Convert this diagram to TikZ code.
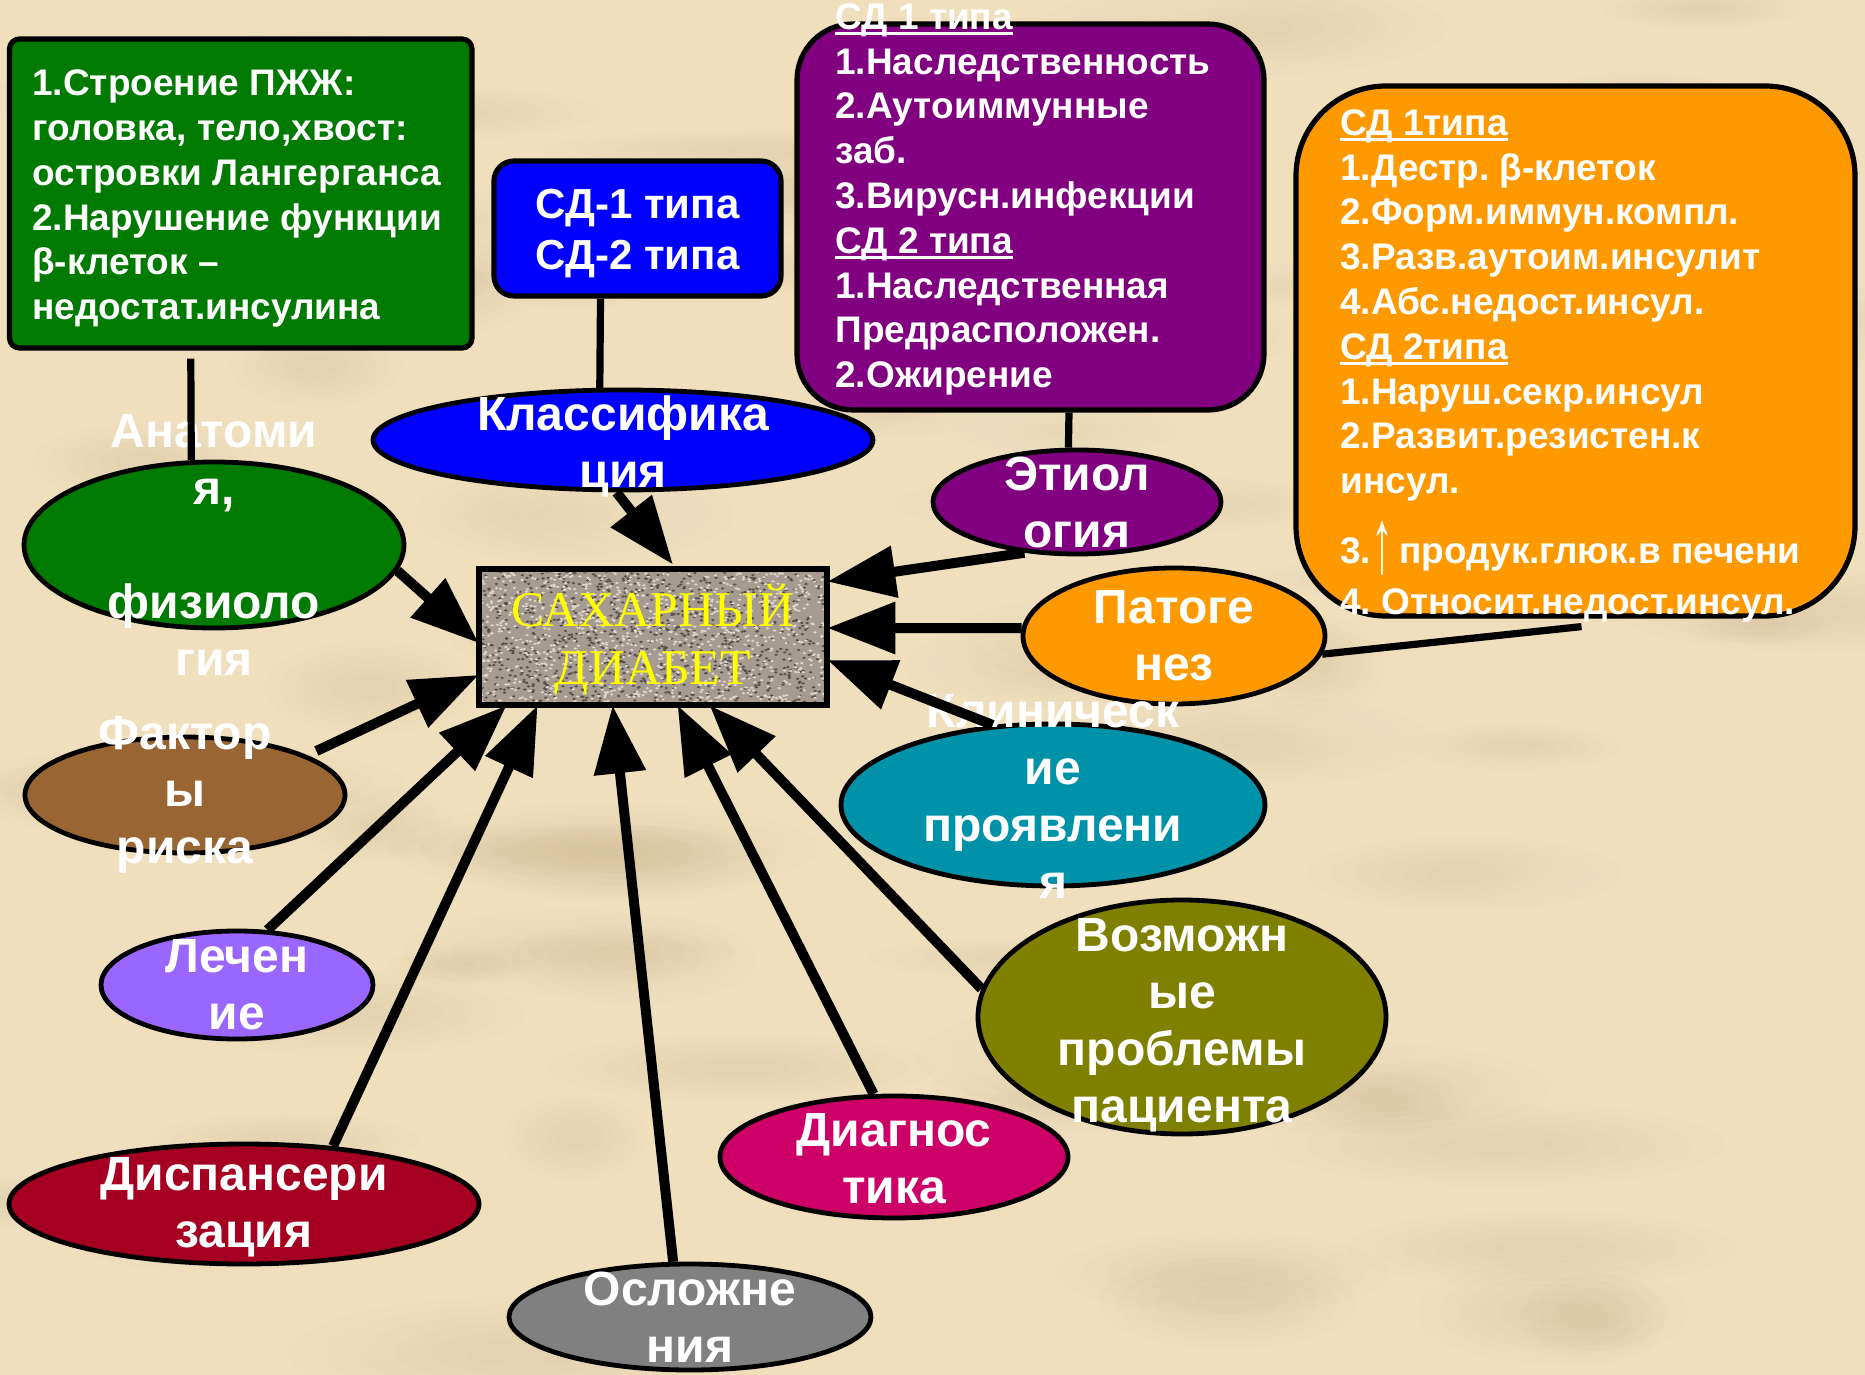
\documentclass[tikz,border=0pt]{standalone}
\usepackage{fontspec}
\usepackage{graphicx}
\setmainfont{Liberation Sans}
\newfontfamily\serifT{Liberation Serif}
\usetikzlibrary{shapes.geometric,arrows.meta,calc}
\frenchspacing

\definecolor{bg}{RGB}{239,223,189}
\definecolor{bgdark}{RGB}{200,175,135}
\definecolor{bglight}{RGB}{250,236,205}
\definecolor{cgreen}{RGB}{0,122,0}
\definecolor{cblue}{RGB}{0,0,255}
\definecolor{cpurple}{RGB}{128,0,128}
\definecolor{corange}{RGB}{255,153,0}
\definecolor{cteal}{RGB}{0,146,168}
\definecolor{cbrown}{RGB}{153,102,51}
\definecolor{clav}{RGB}{153,102,255}
\definecolor{colive}{RGB}{128,128,0}
\definecolor{cmag}{RGB}{204,0,102}
\definecolor{cdred}{RGB}{165,0,33}
\definecolor{cgray}{RGB}{128,128,128}
\definecolor{sdbase}{RGB}{165,155,145}
\definecolor{sddark}{RGB}{90,80,74}
\definecolor{sdlight}{RGB}{222,214,206}
\definecolor{cyel}{RGB}{255,255,0}

\newsavebox\ulbox
\newsavebox\arbox
\newcommand\ulx[1]{\sbox\ulbox{#1}\rlap{\rule[-2.8pt]{\wd\ulbox}{1.2pt}}\usebox\ulbox}
\newcommand\boxfont{\bfseries\fontsize{18.5}{22.4}\selectfont}
\newcommand\ellfont{\bfseries\fontsize{24}{28.5}\selectfont}
\newcommand\blufont{\bfseries\fontsize{21}{25.6}\selectfont}
\newcommand\upar{\sbox\arbox{\resizebox*{11pt}{27pt}{\mdseries ↑}}\raisebox{\dimexpr\dp\arbox-6pt\relax}[0pt][0pt]{\usebox\arbox}}

\tikzset{
  ell/.style={ellipse, draw=black, line width=2.4pt, inner sep=0pt},
  lbl/.style={text=white, font=\ellfont, align=center, inner sep=0pt},
  panel/.style={rectangle, draw=black, line width=2.6pt, inner sep=0pt},
  ptext/.style={text=white, font=\boxfont, align=left, inner sep=0pt, anchor=north west},
  arr/.style={line width=5pt, -{Triangle[length=34pt,width=25pt]}},
  link/.style={line width=3.6pt}
}

\begin{document}
\begin{tikzpicture}[x=0.5pt,y=-0.5pt]
\useasboundingbox (0,0) rectangle (1865,1375);
\fill[bg] (0,0) rectangle (1865,1375);
% parchment mottling
\pgfmathsetseed{11}
\begin{scope}
\clip (0,0) rectangle (1865,1375);
\foreach \i in {1,...,70}{
  \pgfmathsetmacro\bx{1865*rnd}\pgfmathsetmacro\by{1375*rnd}
  \pgfmathsetmacro\bw{70+170*rnd}\pgfmathsetmacro\bh{18+40*rnd}
  \foreach \s in {1,0.85,0.7,0.55,0.4,0.25}{
    \fill[bgdark, opacity=0.035] (\bx,\by) ellipse ({\s*\bw} and {\s*\bh});
  }
}
\foreach \i in {1,...,50}{
  \pgfmathsetmacro\bx{1865*rnd}\pgfmathsetmacro\by{1375*rnd}
  \pgfmathsetmacro\bw{70+170*rnd}\pgfmathsetmacro\bh{18+40*rnd}
  \foreach \s in {1,0.8,0.6,0.4}{
    \fill[bglight, opacity=0.06] (\bx,\by) ellipse ({\s*\bw} and {\s*\bh});
  }
}
\end{scope}

% central box
\node[rectangle, fill=sdbase, minimum width=174pt, minimum height=68pt, inner sep=0pt] (sd) at (653,637) {};
\pgfmathsetseed{7}
\begin{scope}
\clip (sd.south west) rectangle (sd.north east);
\foreach \i in {1,...,1100}{
  \pgfmathsetmacro\px{479+348*rnd}\pgfmathsetmacro\py{569+136*rnd}
  \fill[sddark] (\px,\py) ellipse (1.9 and 1.2);
}
\foreach \i in {1,...,1100}{
  \pgfmathsetmacro\px{479+348*rnd}\pgfmathsetmacro\py{569+136*rnd}
  \fill[sdlight] (\px,\py) ellipse (1.9 and 1.2);
}
\end{scope}
\draw[line width=3pt] (sd.north west) rectangle (sd.south east);
\node[font=\serifT\fontsize{25}{29}\selectfont, text=cyel, align=center, inner sep=0pt] (sdt) at ([yshift=-1.5pt]sd.center) {САХАРНЫЙ\\ДИАБЕТ};

% panels
\node[panel, fill=cgreen, rounded corners=5pt, minimum width=231.25pt, minimum height=154.5pt] (gbox) at (240.75,193.5) {};
\node[ptext] (gtext) at (32,69.5) {1.Строение ПЖЖ:\\головка, тело,хвост:\\островки Лангерганса\\2.Нарушение функции\\β-клеток –\\недостат.инсулина};

\node[panel, fill=cblue, rounded corners=10pt, minimum width=143.5pt, minimum height=67.5pt] (bbox) at (637.5,228.5) {};
\node[text=white, font=\blufont, align=center, inner sep=0pt] (btext) at ([yshift=-2.5pt]bbox.center) {СД-1 типа\\СД-2 типа};

\node[panel, fill=cpurple, rounded corners=28pt, minimum width=233.5pt, minimum height=193pt] (pbox) at (1030.5,217) {};
\node[ptext] (ptext) at (835,3) {\ulx{СД 1 типа}\\1.Наследственность\\2.Аутоиммунные\\заб.\\3.Вирусн.инфекции\\\ulx{СД 2 типа}\\1.Наследственная\\Предрасположен.\\2.Ожирение};

% ellipses
\node[ell, fill=cgreen, minimum width=190pt, minimum height=83pt] (anat) at (214,545) {};
\node[lbl] (anatT) at (anat) {Анатоми\\я,\\\mbox{}\\физиоло\\гия};
\node[ell, fill=cblue, minimum width=250pt, minimum height=50pt] (klass) at (623,440) {};
\node[lbl] (klassT) at ([yshift=-3pt]klass.center) {Классифика\\ция};
\node[ell, fill=cpurple, minimum width=144pt, minimum height=52pt] (etio) at (1077,502) {};
\node[lbl] (etioT) at (etio) {Этиол\\огия};
\node[ell, fill=corange, minimum width=151pt, minimum height=68pt] (pat) at (1174,636) {};
\node[lbl] (patT) at (pat) {Патоге\\нез};
\node[ell, fill=cteal, minimum width=212pt, minimum height=81pt] (klin) at (1053,805) {};
\node[lbl] (klinT) at ([yshift=4.5pt]klin.center) {Клиническ\\ие\\проявлени\\я};
\node[ell, fill=cbrown, minimum width=160pt, minimum height=58pt] (fac) at (185,795) {};
\node[lbl] (facT) at (fac) {Фактор\\ы\\риска};
\node[ell, fill=clav, minimum width=136pt, minimum height=54pt] (lech) at (237,985) {};
\node[lbl] (lechT) at (lech) {Лечен\\ие};
\node[ell, fill=colive, minimum width=204pt, minimum height=117pt] (voz) at (1182,1017) {};
\node[lbl] (vozT) at ([yshift=-4pt]voz.center) {Возможн\\ые\\проблемы\\пациента};
\node[ell, fill=cmag, minimum width=174pt, minimum height=61pt] (diag) at (894,1157) {};
\node[lbl] (diagT) at ([yshift=-1pt]diag.center) {Диагнос\\тика};
\node[ell, fill=cdred, minimum width=235pt, minimum height=60pt] (disp) at (244,1204) {};
\node[lbl] (dispT) at ([yshift=-1.5pt]disp.center) {Диспансери\\зация};
\node[ell, fill=cgray, minimum width=181pt, minimum height=53pt] (osl) at (690,1317) {};
\node[lbl] (oslT) at (osl) {Осложне\\ния};

% links
\draw[link, shorten <=4pt] ([xshift=-25pt]gbox.south) -- (anat.105.6);
\draw[link] ([xshift=-18.5pt]bbox.south) -- (klass.114.8);
\draw[link] ([xshift=19.25pt]pbox.south) -- (etio.99);

% arrows
\draw[arr] (anat.-8) -- ([yshift=-3pt]sd.west);
\draw[arr] (klass.-97) -- ([xshift=10pt,yshift=2pt]sd.north);
\draw[arr] (etio.-136) -- ([yshift=-6.5pt]sd.north east);
\draw[arr] (pat.177) -- ([yshift=4.5pt]sd.east);
\draw[arr] (klin.127) -- ([yshift=-11.5pt]sd.east);
\draw[arr, shorten <=5pt] (fac.18) -- ([yshift=-19pt]sd.west);
\draw[arr] (lech.61) -- ([xshift=14pt]sd.south west);
\draw[arr] (disp.33) -- ([xshift=29.5pt]sd.south west);
\draw[arr] (osl.107) -- ([xshift=67pt]sd.south west);
\draw[arr] (diag.108) -- ([xshift=99.5pt]sd.south west);
\draw[arr] (voz.172) -- ([xshift=115.5pt]sd.south west);

% orange panel
\node[panel, fill=corange, rounded corners=45pt, minimum width=279.5pt, minimum height=265pt] (obox) at (1575.5,351) {};
\draw[link] (pat.-7) -- ([xshift=3pt,yshift=-4pt]obox.south);
\node[ptext] (otext) at (1340,109) {\ulx{СД 1типа}\\1.Дестр. β-клеток\\2.Форм.иммун.компл.\\3.Разв.аутоим.инсулит\\4.Абс.недост.инсул.\\\ulx{СД 2типа}\\1.Наруш.секр.инсул\\2.Развит.резистен.к\\инсул.\\[12.6pt]3.\upar\,продук.глюк.в печени\\[3pt]4. Относит.недост.инсул.};
\end{tikzpicture}
\end{document}
